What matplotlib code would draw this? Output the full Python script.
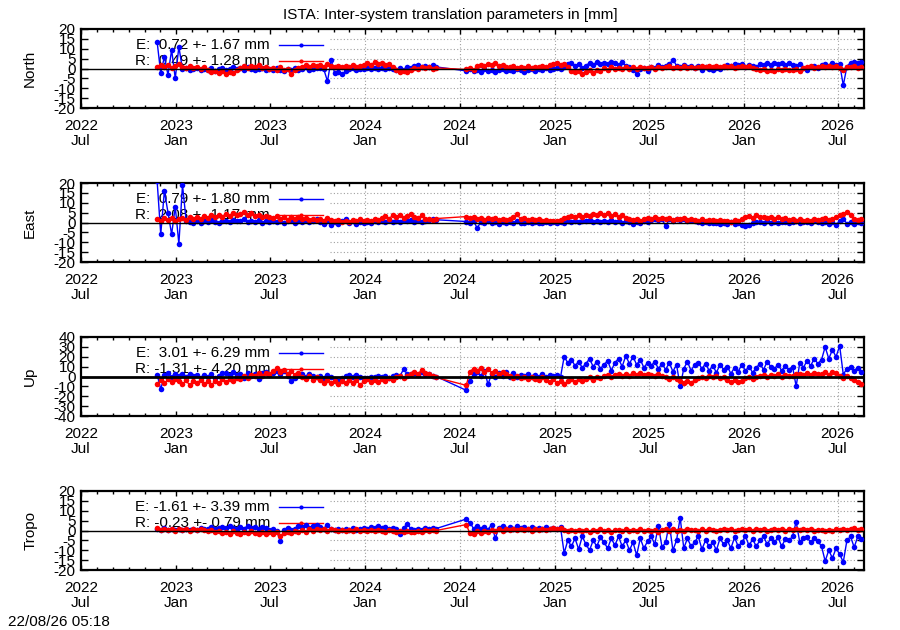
import matplotlib
matplotlib.use('Agg')
import matplotlib.pyplot as plt
import pandas as pd

plt.rcParams['font.family'] = ['Liberation Sans', 'DejaVu Sans']

# weekly samples, data gap from mid May to mid July 2024
dates_a = pd.date_range('2022-11-25', '2024-05-17', freq='7D')
dates_b = pd.date_range('2024-07-14', '2026-08-16', freq='7D')
dates = dates_a.append(dates_b)

north_e = [
    13.5, -2.5, 6.0, -3.3, 9.5, -5.0, 11.0,
    -0.5, 0.3, -1.0, -0.2, 0.4, -0.8, -0.3,
    -0.6, 0.2, -1.2, -0.4, 0.5,
    -0.9, -0.2, 0.6, -0.5,
    0.1, -0.7, 0.8, -0.3,
    -1.0, -0.2, 0.3, -0.8, -0.4,
    -0.9, 0.2, -0.6, -1.2,
    -0.5, -1.0, 0.1, -0.8,
    -0.3, 0.6, -0.9, -0.2, 0.4,
    0.3, -0.5, -6.5, 4.5,
    -2.5, -1.8, -3.0, -1.5,
    -0.5, 0.2, -0.8, 0.0, -0.4,
    0.1, -0.3, 0.4, -0.2,
    0.2, -0.5, 0.3, -0.1,
    -1.0, 0.5, -0.8, 1.0, 0.2,
    1.2, 1.8, 0.9, 1.5,
    1.0, 1.6, 0.8,
    -1.2, -0.5, -1.5,
    -0.8, -1.6, -0.4, -1.2,
    -0.6, -1.8, -0.9, -0.2, -1.4,
    -0.7, -1.5, -0.3, -1.0,
    -1.6, -0.8, -0.2, -1.2,
    -0.5, -1.0, 0.2, -0.6, 0.0,
    0.4, -0.3, 0.8, 2.5,
    3.0, 1.5, 2.2, 0.5,
    1.5, 2.8, 2.0, 3.2, 2.4,
    3.0, 2.2, 3.5, 2.6,
    2.0, 3.2, 1.5, 0.8,
    -1.0, -2.8, -0.5, 0.5, -1.2,
    1.0, 0.3, 1.6, 0.8,
    1.4, 2.2, 4.5, 1.5,
    1.0, 1.8, 0.6, 1.4, 0.2,
    1.2, -0.6, 0.8, -0.2,
    -0.8, 0.2, -0.5, 0.6,
    1.8, 1.2, 2.4, 1.6, 2.2,
    1.0, 2.0, 1.4, 0.6,
    2.4, 1.6, 2.8, 2.0,
    3.0, 2.2, 2.6, 1.8, 2.8,
    2.0, 1.2, 2.4, 0.4,
    -0.6, 0.8, 1.2, 0.2,
    1.8, 2.4, 1.2, 2.8, 1.6,
    2.2, -8.5, 1.0, 3.0,
    3.5, 2.6, 3.2,
]
north_r = [
    1.0, 2.0, 0.8, 1.8, 0.5, 1.5, 2.2,
    1.0, 0.2, 1.2, 0.4, 1.0, -0.2, 0.6,
    -0.8, -2.0, -1.2, -2.5, -1.5,
    -2.8, -1.8, -2.2, -1.0,
    0.5, 1.2, 0.4, 1.5,
    0.8, 1.6, 0.2, 1.0, -0.3,
    0.4, -0.6, 0.6, -0.8,
    -0.4, -3.0, -0.6, 0.3,
    1.0, 1.8, 0.8, 2.0, 1.2,
    1.6, 0.9, 2.2, 1.4,
    0.8, 1.5, 0.6, 1.2,
    1.0, 1.8, 0.7, 1.4, 2.0,
    2.8, 1.8, 3.2, 2.2,
    2.6, 1.6, 2.4, 0.8,
    -0.8, -1.8, -1.2, -2.0, -0.6,
    0.5, -0.4, 1.0, 0.2,
    0.6, -0.2, 0.3,
    -0.5, 0.2, -1.0,
    1.2, 2.0, 1.5, 2.4,
    1.8, 2.6, 1.4, 2.0, 1.0,
    0.6, 1.2, 0.4, 1.0,
    0.5, 1.1, 0.3, 0.9,
    0.8, 1.5, 0.6, 1.8, 2.4,
    2.8, 1.6, 2.2, 0.6,
    -1.2, -2.0, -1.5, -2.6,
    -1.8, -1.0, -2.2, -0.6, -1.4,
    0.2, -0.6, 0.6, -0.2,
    0.4, -0.4, 0.8, 0.0,
    0.6, -0.3, 0.9, 0.1, 0.5,
    0.8, 0.0, 1.0, 0.3,
    0.7, 1.2, 0.2, 0.9,
    0.4, 1.1, 0.5, 1.0, 0.2,
    0.9, 1.4, 0.6, 1.2,
    0.8, 1.5, 0.9, 1.3,
    0.7, 1.2, 0.5, 1.0, 1.4,
    0.8, 1.3, 0.4, -0.4,
    -1.0, -0.4, -1.3, -0.6,
    -1.2, -0.5, -1.0, -0.2, -0.8,
    -0.9, -0.3, -1.4, 0.2,
    0.6, 1.2, 0.4, 1.0,
    1.4, 0.6, 1.2, 0.8, 1.5,
    0.4, -0.8, 1.0, 0.6,
    1.2, 0.5, 1.0,
]
east_e = [
    21.0, -6.0, 16.0, 5.0, -6.0, 8.0, -10.8, 19.0, 1.0,
    0.5, -0.5, 0.8, 0.0, 1.0,
    0.2, 1.2, 0.5, -0.3, 0.8,
    1.0, 0.3, 1.5, 0.6,
    0.8, 1.6, 0.2, 1.0,
    0.5, 1.2, -0.2, 0.8, 0.3,
    1.0, 0.2, 0.9, -0.3,
    0.6, 1.1, 0.0, 0.7,
    0.4, 1.2, 0.3, 0.9, 1.6,
    0.5, -0.8, 0.8, -1.2,
    0.2, -1.0, 0.6, 2.0,
    -0.5, 0.6, -1.0, 0.3, -0.4,
    0.5, 0.0, 0.8, 0.2,
    0.9, 0.3, 1.2, 0.5,
    1.0, 0.4, 1.4, 0.6, 1.1,
    0.5, 1.2, 0.2, 0.9,
    1.5, 1.8, 1.4,
    0.5, 0.0, 0.8,
    -2.8, 0.2, -0.4, 0.6,
    -0.2, 0.4, -0.6, 0.3, -0.1,
    0.5, -0.3, 0.6, 0.0,
    -0.4, 0.3, -0.2, 0.5,
    0.0, -0.5, 0.4, -0.2, 0.2,
    -0.3, 0.3, 0.0, 0.6,
    0.2, 0.8, 0.4, 1.0,
    0.6, 1.2, 0.3, 0.9, 0.5,
    1.0, 0.4, 1.2, 0.2,
    0.8, -0.2, 0.6, 0.3,
    -0.8, 0.5, -0.4, 1.0, 0.2,
    1.4, 2.0, 1.2, 1.8,
    -2.0, 1.6, 1.0, 2.0,
    1.2, 1.8, 0.8, 1.5, 0.6,
    0.2, -0.4, 0.3, -0.2,
    -0.5, 0.0, -0.8, -0.3,
    -0.6, 0.1, -0.9, -0.2, -1.2,
    -1.8, -1.2, -0.4, 0.2,
    0.4, -0.2, 0.6, 0.0,
    0.3, -0.3, 0.5, 0.1, -0.4,
    0.2, 0.6, -0.2, 0.4,
    0.5, 0.0, 0.7, 0.2,
    -0.5, 0.4, -1.0, 0.2, -1.2,
    0.8, 2.0, -0.6, 0.5,
    -0.8, 0.4, 0.0,
]
east_r = [
    2.0, 1.0, 2.5, 1.2, 2.2, 0.8, 2.0,
    2.5, 1.5, 3.0, 2.0, 2.8, 1.6, 3.2,
    2.4, 3.6, 2.8, 4.0, 3.0,
    4.5, 3.2, 5.0, 3.8,
    4.2, 5.5, 3.6, 4.6,
    3.2, 4.0, 2.6, 3.5, 2.8,
    2.2, 3.2, 1.8, 2.6,
    1.4, 2.8, 1.8, 3.0,
    1.6, 2.4, 1.2, 2.0, 1.4,
    1.8, 1.0, 2.2, 1.4,
    0.6, 1.2, 0.2, 0.9,
    0.5, 1.4, 0.8, 1.6, 1.0,
    1.4, 0.8, 2.0, 1.2,
    2.4, 3.2, 2.0, 3.6,
    2.8, 3.8, 2.4, 3.4, 4.2,
    3.0, 2.2, 3.6, 2.0,
    1.8, 1.2, 2.0,
    3.0, 2.2, 2.8,
    1.8, 2.5, 1.4, 2.2,
    1.6, 2.4, 1.2, 2.0, 1.5,
    1.8, 2.6, 4.2, 1.6,
    2.2, 1.4, 2.0, 1.2,
    1.6, 0.8, 1.4, 0.6, 1.0,
    0.8, 1.4, 2.4, 3.0,
    3.4, 2.6, 3.8, 3.0,
    4.0, 3.2, 4.4, 3.6, 4.6,
    3.8, 4.8, 3.4, 4.2,
    3.0, 4.0, 2.4, 1.6,
    1.2, 2.0, 1.0, 1.8, 2.4,
    2.0, 2.6, 1.6, 2.2,
    1.8, 2.4, 1.4, 2.0,
    1.6, 2.2, 1.2, 1.8, 1.4,
    1.0, 1.6, 0.8, 1.4,
    1.2, 0.6, 1.4, 0.8,
    1.0, 0.4, 1.2, 0.6, 1.8,
    2.8, 3.4, 2.4, 3.6,
    2.6, 3.0, 2.2, 2.8,
    2.0, 2.6, 1.6, 2.2, 1.4,
    1.8, 1.0, 1.6, 0.8,
    1.4, 0.6, 1.8, 1.2,
    1.6, 2.2, 1.4, 2.0, 2.8,
    3.6, 4.4, 5.2, 3.8,
    2.0, 1.4, 1.8,
]
up_e = [
    2.0, -13.0, 1.5, 4.0, -1.0, 3.0, 0.5,
    2.5, -0.5, 3.0, 1.0, 2.0, -1.5, 1.5,
    0.0, 2.5, -2.0, 1.0, 3.5,
    4.0, 2.0, 5.0, 1.5,
    3.0, -2.0, 4.0, 1.0,
    2.5, -3.0, 3.5, 5.0, 2.0,
    4.0, 6.0, 3.0, 5.5,
    1.0, -4.5, -2.0, 1.5,
    2.5, 0.0, 3.0, 1.0, -1.0,
    0.5, -2.0, 1.5, -1.0,
    -3.0, -5.0, -1.5, 0.5,
    1.5, -0.5, 2.0, 0.0, -1.5,
    -2.0, 0.0, -1.0, 1.0,
    -0.5, 1.0, -1.5, 0.5,
    2.0, 0.5, 7.5, 2.5, 3.0,
    4.0, 2.0, 5.0, 3.0,
    2.5, 1.0, 0.0,
    -14.0, -5.0, 3.0,
    5.0, 1.0, 6.0, -8.0,
    3.0, -1.0, 4.0, 1.0, 5.0,
    0.0, 3.5, -1.0, 2.0,
    1.0, 3.0, -0.5, 2.0,
    0.0, 2.5, -1.0, 1.5, 0.5,
    2.0, -0.5, 20.0, 14.0,
    17.0, 11.0, 15.0, 9.0,
    13.0, 18.0, 10.0, 15.0, 8.0,
    12.0, 16.0, 6.0, 14.0,
    18.0, 10.0, 21.0, 13.0,
    20.0, 12.0, 17.0, 9.0, 14.0,
    11.0, 15.0, 8.0, 13.0,
    7.0, 14.0, 5.0, 12.0,
    -10.0, 8.0, 15.0, 6.0, 12.0,
    14.0, 8.0, 13.0, 6.0,
    11.0, 4.0, 12.0, 7.0,
    10.0, 3.0, 9.0, 5.0, 12.0,
    6.0, 10.0, 4.0, 9.0,
    13.0, 7.0, 15.0, 10.0,
    8.0, 12.0, 6.0, 11.0, 7.0,
    10.0, -10.0, 14.0, 9.0,
    16.0, 11.0, 18.0, 13.0,
    17.0, 30.0, 18.0, 27.0, 20.0,
    31.0, 2.0, 8.0, 10.0,
    6.0, 9.0, 5.0,
]
up_r = [
    -8.0, -4.0, -7.0, -3.0, -6.0, -2.5, -5.0,
    -7.5, -4.0, -9.0, -5.0, -7.0, -3.5, -8.0,
    -5.0, -8.5, -4.5, -7.0, -3.0,
    -6.0, -2.5, -5.0, -1.5,
    -3.0, 0.5, -1.5, 2.0,
    1.0, 3.5, 0.5, 4.0, 2.5,
    5.5, 8.5, 4.5, 7.0,
    3.0, 5.5, 1.5, 4.0,
    0.0, -2.5, 1.0, -3.5, -1.0,
    -4.0, -6.5, -3.5, -7.0,
    -5.0, -8.0, -4.5, -6.5,
    -3.5, -7.0, -4.0, -8.5, -5.0,
    -3.0, -6.0, -4.0, -5.5,
    -2.5, -4.5, -1.5, -3.5,
    -1.0, 0.5, -2.0, 1.0, 3.0,
    5.0, 3.0, 6.5, 4.0,
    2.5, 0.5, -1.0,
    -9.0, 5.0, 8.0,
    6.0, 9.0, 5.0, 7.5,
    4.0, 6.0, 3.0, 5.0, 2.5,
    1.0, -1.5, 0.5, -2.0,
    -1.0, -3.0, 0.0, -2.5,
    -3.5, -1.0, -4.0, -6.0, -3.0,
    -7.0, -4.5, -8.0, -5.0,
    -3.0, -5.5, -2.5, -4.5,
    -3.0, -1.0, -4.0, -0.5, -2.0,
    0.5, 2.0, -0.5, 1.5,
    2.5, 0.5, 3.0, 1.0,
    4.0, 2.0, 3.5, 1.5, 3.0,
    2.0, 0.5, 3.0, 1.0,
    -1.0, -3.0, 0.0, -2.5,
    -4.5, -7.0, -5.0, -6.5, -3.5,
    -2.0, 0.0, -1.5, 0.5,
    -1.0, 0.5, -2.0, -0.5,
    -4.0, -6.0, -3.5, -5.5, -4.5,
    -2.0, -0.5, -2.5, 0.0,
    0.5, 2.0, -0.5, 1.5,
    1.0, 2.5, 0.0, 1.5, 0.5,
    1.0, 2.5, 3.0, 1.5,
    3.5, 2.0, 4.0, 2.5,
    3.0, 5.0, 2.0, 4.5, 3.5,
    1.0, -1.5, 0.5, -2.0,
    -4.0, -6.0, -8.0,
]
tropo_e = [
    1.0, 0.5, 1.2, 0.4, 1.0, 0.2, 0.8,
    0.5, 1.0, 0.3, 0.8, 0.2, 1.1, 0.6,
    1.0, 1.6, 0.8, 1.4, 2.0,
    1.2, 2.2, 1.5, 0.8,
    1.8, 1.0, 2.4, 1.4,
    2.0, 0.8, 1.6, 1.2, 0.4,
    0.6, -0.3, -5.5, 0.5,
    1.5, 0.2, 1.0, 2.2,
    1.6, 2.8, 1.2, 2.5, 3.0,
    2.0, 1.0, 2.6, 0.8,
    0.4, 1.0, 0.2, 0.8,
    0.5, 1.2, 0.3, 0.9, 1.5,
    1.0, 2.0, 1.4, 2.2,
    1.2, 1.8, 0.8, 1.5,
    1.0, -2.0, 1.2, 3.5, 0.8,
    0.2, 1.0, 0.5, 1.2,
    0.6, 1.4, 1.0,
    5.8, 4.0, 1.0,
    2.5, 1.0, 2.0, 0.5,
    3.0, -4.0, 1.5, 2.5, 0.8,
    2.0, 1.0, 2.2, 1.2,
    1.8, 0.8, 2.0, 1.0,
    1.5, 0.6, 1.8, 0.9, 1.4,
    0.8, 1.6, -11.5, -5.0,
    -8.0, -4.0, -9.5, -3.0,
    -7.0, -10.0, -5.0, -8.0, -3.5,
    -6.0, -9.0, -4.0, -7.5,
    -3.0, -8.0, -5.0, -10.0,
    -6.0, -12.5, -4.0, -9.0, -5.5,
    -3.0, -7.0, 2.5, -8.5,
    -6.0, 3.5, -10.0, -5.0,
    6.5, -9.0, -4.0, -8.0, -6.0,
    -3.0, -9.5, -5.0, -8.0,
    -6.0, -10.0, -4.0, -7.0,
    -5.0, -9.0, -3.5, -8.0, -6.0,
    -3.0, -7.5, -4.5, -8.0,
    -5.0, -3.0, -7.0, -4.0,
    -6.0, -3.5, -8.0, -4.5, -5.0,
    -3.0, 4.5, -6.0, -4.0,
    -3.5, -6.0, -4.0, -5.5,
    -8.0, -15.5, -10.0, -14.0, -9.0,
    -12.0, -16.0, -5.0, -3.0,
    -8.5, -3.0, -4.5,
]
tropo_r = [
    1.2, 0.5, 1.0, 0.2, 0.8, 0.0, 0.6,
    0.3, 0.9, -0.2, 0.6, 0.1, 0.8, 0.2,
    -0.4, 0.4, -0.8, 0.0, -1.2,
    -0.6, -1.6, -0.4, -1.2,
    -1.8, -0.8, -1.4, -0.5,
    -1.2, -2.0, -0.8, -1.6, -1.0,
    -1.8, -1.0, -3.0, -1.4,
    -0.6, -1.2, 0.0, -0.8,
    0.2, -0.6, 0.6, -0.2, 0.8,
    0.3, 1.0, 0.0, 0.7,
    0.2, -0.4, 0.5, -0.2,
    0.4, -0.3, 0.6, 0.0, 0.5,
    -0.2, 0.4, -0.5, 0.2,
    0.0, -0.6, 0.3, -0.4,
    -0.8, -0.2, -1.0, 0.0, -0.6,
    -1.0, -0.3, -0.8, 0.2,
    -0.4, 0.5, 0.0,
    3.0, -1.5, -2.0,
    -0.5, -1.2, 0.0, -0.8,
    0.3, -0.4, 0.6, 0.0, 0.8,
    0.2, 0.9, 0.4, 1.0,
    0.3, 0.8, 0.0, 0.6,
    0.4, 1.0, 0.2, 0.8, 1.2,
    0.6, 1.4, 0.4, -0.2,
    0.3, -0.5, 0.5, -0.3,
    0.2, -0.6, 0.4, -0.2, 0.6,
    -0.4, 0.3, -0.7, 0.1,
    0.5, -0.3, 0.7, -0.1,
    0.3, -0.5, 0.6, -0.2, 0.4,
    -0.4, 0.2, -0.6, 0.3,
    0.6, -0.2, 0.8, 0.0,
    0.4, -0.4, 0.7, 0.1, 0.5,
    -0.2, 0.6, 0.0, 0.8,
    0.3, -0.3, 0.5, 0.9,
    0.2, 0.7, -0.2, 0.5, 1.0,
    0.4, 0.9, 0.0, 0.6,
    0.2, 0.8, -0.1, 0.5,
    0.9, 0.3, 0.7, 0.0, 0.6,
    0.2, 0.8, 0.4, 1.0,
    0.3, 0.7, 0.0, 0.5,
    0.2, -0.3, 0.5, 0.0, 0.6,
    0.4, 1.0, 0.3, 0.8,
    1.2, 0.5, 0.9,
]

panel_names = ['North', 'East', 'Up', 'Tropo']
e_mean = [0.72, 0.79, 3.01, -1.61]
e_std = [1.67, 1.80, 6.29, 3.39]
r_mean = [0.49, 2.08, -1.31, -0.23]
r_std = [1.28, 1.17, 4.20, 0.79]
e_series = [north_e, east_e, up_e, tropo_e]
r_series = [north_r, east_r, up_r, tropo_r]
y_limits = [20, 20, 40, 20]
y_steps = [5, 5, 10, 5]

x_start = pd.Timestamp('2022-07-01')
x_end = pd.Timestamp('2026-08-21')
grid_start = pd.Timestamp('2023-10-24')   # grid is hidden left of this in the original
major_dates = pd.date_range('2022-07-01', '2026-07-01', freq='6MS')
minor_dates = pd.date_range('2022-08-01', '2026-08-01', freq='MS')
major_labels = [d.strftime('%Y\n%b') for d in major_dates]

fig = plt.figure(figsize=(9, 6.3), dpi=100)
fig.text(0.5, 1 - 15 / 630, 'ISTA: Inter-system translation parameters in [mm]',
         ha='center', va='center', fontsize=11)

bottoms = [1 - 108 / 630, 1 - 262 / 630, 1 - 416 / 630, 1 - 570 / 630]
for k in range(4):
    ax = fig.add_axes([81 / 900, bottoms[k], 783 / 900, 79 / 630])
    lim = y_limits[k]
    step = y_steps[k]
    ax.set_xlim(x_start, x_end)
    ax.set_ylim(-lim, lim)
    yt = list(range(-lim, lim + 1, step))
    ax.set_yticks(yt)
    ax.set_yticklabels([str(v) for v in yt])
    ax.set_xticks(major_dates)
    ax.set_xticklabels(major_labels, linespacing=1.05)
    ax.set_xticks(minor_dates, minor=True)
    ax.tick_params(axis='x', which='major', direction='in', length=3.6, width=1,
                   top=True, labelsize=11, pad=8)
    ax.tick_params(axis='x', which='minor', direction='in', length=2, width=1, top=True)
    ax.tick_params(axis='y', which='major', direction='in', length=5, width=1,
                   right=True, labelsize=11, pad=4)
    for sp in ax.spines.values():
        sp.set_linewidth(1.6)

    # dotted grid only on the right part
    for v in yt[1:-1]:
        if v != 0:
            ax.hlines(v, grid_start, x_end, colors='#a0a0a0', lw=0.8,
                      linestyles=(0, (1, 2)), zorder=0)
    for d in major_dates:
        if d > grid_start:
            ax.vlines(d, -lim, lim, colors='#a0a0a0', lw=0.8,
                      linestyles=(0, (1, 2)), zorder=0)

    ax.plot(dates, e_series[k], color='#0000ff', lw=1.0, marker='o', ms=4,
            mew=0, zorder=3)
    ax.plot(dates, r_series[k], color='#ff0000', lw=1.0, marker='o', ms=4,
            mew=0, zorder=4)
    ax.axhline(0, color='black', lw=2 if panel_names[k] == 'Up' else 1, zorder=5)

    # key in the upper left, drawn beneath the data
    rows = [('E', e_mean[k], e_std[k], '#0000ff', 0.797),
            ('R', r_mean[k], r_std[k], '#ff0000', 0.595)]
    for tag, m, s, col, yy in rows:
        ax.text(0.2414, yy, f'{tag}: {m:5.2f} +- {s:4.2f} mm', transform=ax.transAxes,
                ha='right', va='center', fontsize=11, zorder=1)
        ax.plot([0.2529, 0.309], [yy, yy], color=col, lw=1, transform=ax.transAxes,
                zorder=1)
        ax.plot([0.281], [yy], color=col, marker='o', ms=3, mew=0,
                transform=ax.transAxes, zorder=1)

    ax.set_ylabel(panel_names[k], fontsize=11)
    ax.yaxis.set_label_coords(-0.056, 0.5)

fig.text(8 / 900, 1 - 622 / 630, '22/08/26 05:18', ha='left', va='center', fontsize=11)

fig.savefig('out.png', dpi=100, facecolor='white')
